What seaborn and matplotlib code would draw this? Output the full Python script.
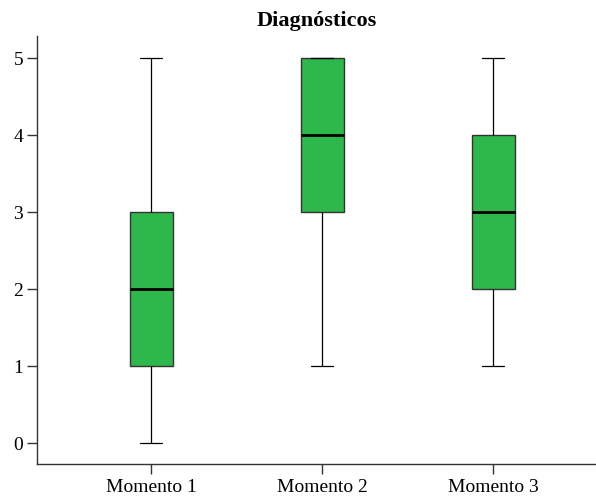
import matplotlib
matplotlib.use("Agg")
import matplotlib.pyplot as plt
import seaborn as sns
import pandas as pd

# Scores recorded at each moment
momentos = ["Momento 1", "Momento 2", "Momento 3"]
momento_1 = [0, 1, 2, 3, 5]
momento_2 = [1, 3, 4, 5, 5]
momento_3 = [1, 2, 3, 4, 5]
y_ticks = [0, 1, 2, 3, 4, 5]
title = "Diagnósticos"

df = pd.DataFrame({
    "momento": [momentos[0]] * len(momento_1)
    + [momentos[1]] * len(momento_2)
    + [momentos[2]] * len(momento_3),
    "valor": momento_1 + momento_2 + momento_3,
})

sns.set_style("ticks")
plt.rcParams["font.family"] = ["Liberation Serif", "DejaVu Serif"]
plt.rcParams["text.color"] = "black"
plt.rcParams["xtick.labelcolor"] = "black"
plt.rcParams["ytick.labelcolor"] = "black"

fig = plt.figure(figsize=(5.96, 5.0), dpi=100)
ax = fig.add_axes([37 / 596, 36 / 500, 559 / 596, 428 / 500])

sns.boxplot(
    data=df, x="momento", y="valor", order=momentos, ax=ax,
    color="#2EB84B", saturation=1, width=0.25, whis=3,
    linewidth=1.0, linecolor="#333333",
    medianprops={"color": "black", "linewidth": 2.0},
    whiskerprops={"color": "black", "linewidth": 0.9},
    capprops={"color": "black", "linewidth": 0.9},
    capwidths=0.13,
)

ax.set_xlim(-0.667, 2.6)
ax.set_ylim(-0.27, 5.29)
ax.set_yticks(y_ticks)
ax.set_xlabel("")
ax.set_ylabel("")
ax.set_title(title, fontsize=16, fontweight="bold", pad=7, color="black")
ax.tick_params(axis="both", direction="out", length=7, width=1,
               color="#333333", labelsize=14, labelcolor="black")
ax.tick_params(axis="x", pad=4)
ax.tick_params(axis="y", pad=3)
for side in ["top", "right"]:
    ax.spines[side].set_visible(False)
for side in ["left", "bottom"]:
    ax.spines[side].set_color("#333333")
    ax.spines[side].set_linewidth(1.0)

fig.savefig("out.png", dpi=100)
